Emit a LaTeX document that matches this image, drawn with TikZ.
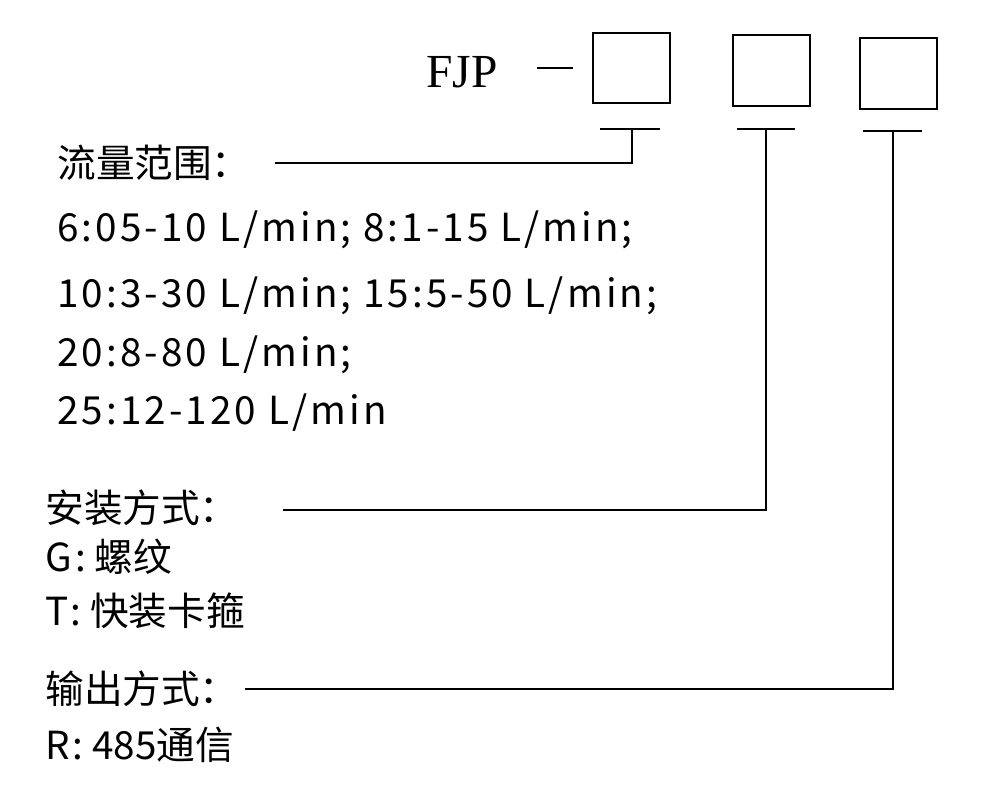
\documentclass[tikz,border=0pt]{standalone}
\usepackage{fontspec}
\setmainfont{Noto Sans CJK SC}
\newfontfamily\spaced[LetterSpace=8]{Noto Sans CJK SC}
\newfontfamily\serifl{Liberation Serif}
\usetikzlibrary{positioning}
\begin{document}
\begin{tikzpicture}[x=0.02cm,y=-0.02cm,
  codebox/.style={draw,thick},
  lead/.style={thick},
  txt/.style={anchor=west,inner sep=0pt,font=\fontsize{22}{26}\selectfont},
  rng/.style={txt,font=\spaced\fontsize{22}{26}\selectfont}]
\useasboundingbox (0,0) rectangle (1000,805);
% model code
\node[inner sep=0pt,font=\serifl\fontsize{27}{30}\selectfont] (fjp) at (462,72) {FJP};
\draw[lead] (537,68) -- (573,68);
\draw[codebox] (593,33) rectangle (670,103);
\draw[codebox] (733,35) rectangle (810,106);
\draw[codebox] (860,38) rectangle (937,109);
\draw[lead] (600,129) -- (660,129);
\draw[lead] (737,129) -- (795,129);
\draw[lead] (863,131) -- (922,131);
% labels
\node[txt] (flow) at (57,163) {流量范围：};
\node[rng] (r1) at (57,230) {6:05-10 L/min; 8:1-15 L/min;};
\node[rng] (r2) at (57,296) {10:3-30 L/min; 15:5-50 L/min;};
\node[rng] (r3) at (57,355) {20:8-80 L/min;};
\node[rng] (r4) at (57,413) {25:12-120 L/min};
\node[txt] (mount) at (45,508) {安装方式：};
\node[txt] (g) at (45,557) {{\spaced G:} 螺纹};
\node[txt] (t) at (45,611) {{\spaced T:} 快装卡箍};
\node[txt] (out) at (45,689) {输出方式：};
\node[txt] (rr) at (45,745) {{\spaced R:} 485通信};
% leader lines
\coordinate (c1) at (632,129);
\coordinate (c2) at (766,129);
\coordinate (c3) at (893,131);
\draw[lead] (c1) |- (275,163);
\draw[lead] (c2) |- (283,510);
\draw[lead] (c3) |- (245,689);
\end{tikzpicture}
\end{document}
